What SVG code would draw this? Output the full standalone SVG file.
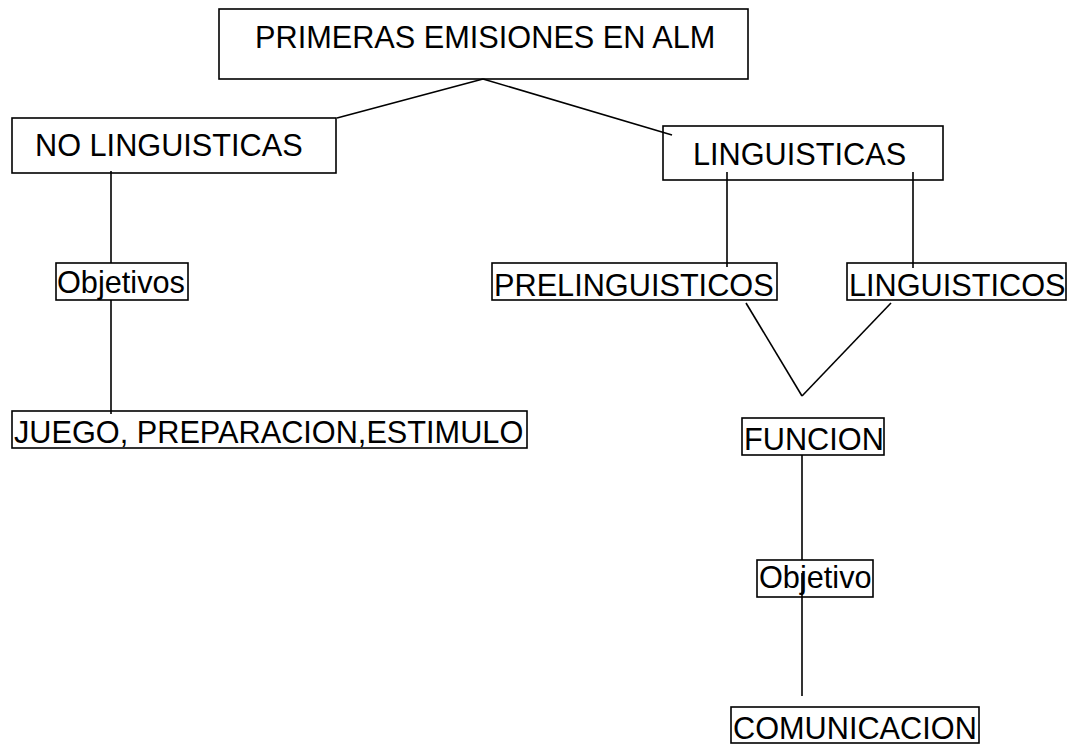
<svg xmlns="http://www.w3.org/2000/svg" width="1069" height="744" viewBox="0 0 1069 744">
<style>
.box{fill:#fff;stroke:#000;stroke-width:1.6}
.t{font-family:"Liberation Sans",Arial,sans-serif;font-size:30.7px;fill:#000}
.c line{stroke:#000;stroke-width:1.6}
</style>
<rect width="1069" height="744" fill="#fff"/>
<g id="n-top"><rect class="box" x="219" y="9" width="529" height="70"/><text class="t" x="255" y="48">PRIMERAS EMISIONES EN ALM</text></g>
<g id="n-nolin"><rect class="box" x="12" y="118" width="324" height="55"/><text class="t" x="35" y="156">NO LINGUISTICAS</text></g>
<g id="n-lin"><rect class="box" x="663" y="126" width="280" height="54"/><text class="t" x="693" y="165">LINGUISTICAS</text></g>
<g id="n-objetivos"><rect class="box" x="56" y="263" width="132" height="37"/><text class="t" x="57" y="293">Objetivos</text></g>
<g id="n-prelin"><rect class="box" x="492" y="263" width="285" height="37"/><text class="t" x="494" y="296">PRELINGUISTICOS</text></g>
<g id="n-linos"><rect class="box" x="847" y="263" width="219" height="37"/><text class="t" x="849" y="296">LINGUISTICOS</text></g>
<g id="n-juego"><rect class="box" x="12" y="411" width="515" height="37"/><text class="t" x="14" y="443">JUEGO, PREPARACION,ESTIMULO</text></g>
<g id="n-funcion"><rect class="box" x="742" y="418" width="142" height="37"/><text class="t" x="744" y="450">FUNCION</text></g>
<g id="n-objetivo"><rect class="box" x="757" y="560" width="116" height="37"/><text class="t" x="759" y="588">Objetivo</text></g>
<g id="n-comu"><rect class="box" x="731" y="707" width="248" height="36"/><text class="t" x="733" y="739">COMUNICACION</text></g>
<g class="c" id="connectors">
<line x1="483" y1="79" x2="337" y2="118"/>
<line x1="483" y1="79" x2="672" y2="135"/>
<line x1="111" y1="171" x2="111" y2="263"/>
<line x1="111" y1="300" x2="111" y2="414"/>
<line x1="727" y1="172" x2="727" y2="267"/>
<line x1="913" y1="172" x2="913" y2="268"/>
<line x1="746" y1="303" x2="802" y2="396"/>
<line x1="891" y1="303" x2="802" y2="396"/>
<line x1="802" y1="455" x2="802" y2="560"/>
<line x1="802" y1="573" x2="802" y2="696"/>
</g>
</svg>
